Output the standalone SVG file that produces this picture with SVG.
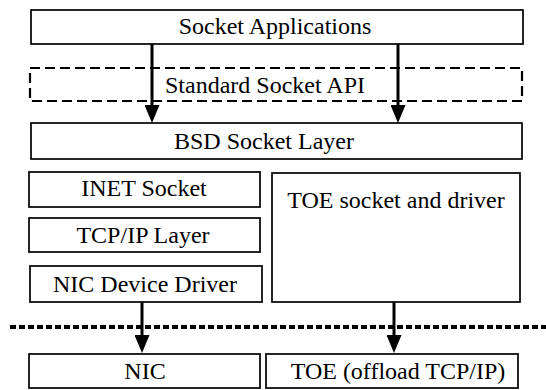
<svg xmlns="http://www.w3.org/2000/svg" width="546" height="390" viewBox="0 0 546 390">
<style>
.box{fill:#fff;stroke:#000;stroke-width:1.7}
.dash{fill:none;stroke:#000;stroke-width:2.2;stroke-dasharray:10 5}
.t{font-family:'Liberation Serif','Times New Roman',serif;font-size:24px;fill:#000;text-anchor:middle}
.arr{stroke:#000;stroke-width:3;fill:none}
.sep{stroke:#000;stroke-width:4;stroke-dasharray:6 3}
</style>
<defs>
<marker id="ah" viewBox="0 0 18 15" markerWidth="18" markerHeight="15" refX="4" refY="7.5" orient="auto" markerUnits="userSpaceOnUse">
<path d="M0,0 L18,7.5 L0,15 z" fill="#000"/>
</marker>
</defs>
<rect width="546" height="390" fill="#fff"/>
<g id="socket-applications"><rect class="box" x="31" y="10" width="492" height="34"/><text class="t" x="275" y="34">Socket Applications</text></g>
<g id="standard-socket-api"><rect class="dash" x="30" y="68" width="492" height="33"/><text class="t" x="265" y="93">Standard Socket API</text></g>
<g id="bsd-socket-layer"><rect class="box" x="31" y="123" width="491" height="36"/><text class="t" x="264" y="149">BSD Socket Layer</text></g>
<g id="inet-socket"><rect class="box" x="29" y="172" width="231" height="35"/><text class="t" x="144" y="196">INET Socket</text></g>
<g id="tcpip-layer"><rect class="box" x="29" y="218" width="231" height="34"/><text class="t" x="143" y="243">TCP/IP Layer</text></g>
<g id="nic-device-driver"><rect class="box" x="30" y="266" width="232" height="36"/><text class="t" x="145" y="292">NIC Device Driver</text></g>
<g id="toe-socket-driver"><rect class="box" x="272" y="173" width="248" height="129"/><text class="t" x="396" y="208">TOE socket and driver</text></g>
<g id="nic"><rect class="box" x="29" y="354" width="231" height="34"/><text class="t" x="145" y="379">NIC</text></g>
<g id="toe-offload"><rect class="box" x="266" y="354" width="252" height="34"/><text class="t" x="398" y="379">TOE (offload TCP/IP)</text></g>
<line class="sep" x1="10" y1="327" x2="546" y2="327"/>
<g id="connectors">
<line class="arr" x1="152" y1="44" x2="152" y2="109" marker-end="url(#ah)"/>
<line class="arr" x1="398" y1="44" x2="398" y2="109" marker-end="url(#ah)"/>
<line class="arr" x1="142" y1="302" x2="142" y2="339" marker-end="url(#ah)"/>
<line class="arr" x1="394" y1="302" x2="394" y2="339" marker-end="url(#ah)"/>
</g>
</svg>
